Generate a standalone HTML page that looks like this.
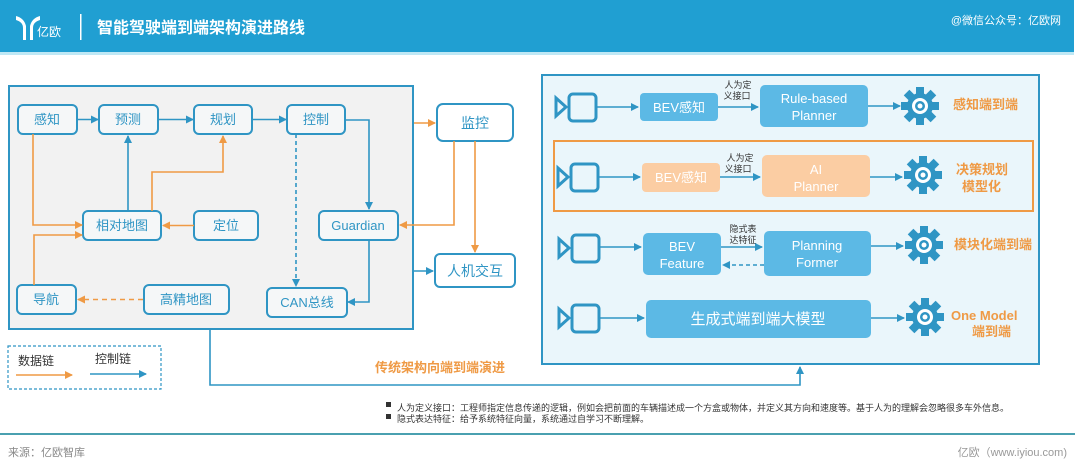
<!DOCTYPE html>
<html><head><meta charset="utf-8"><style>
body{margin:0;background:#fff;width:1080px;height:471px;overflow:hidden}
svg text{font-family:"Liberation Sans","Noto Sans CJK SC",sans-serif}
</style></head><body>
<svg width="1080" height="471" viewBox="0 0 1080 471" xmlns="http://www.w3.org/2000/svg">
<defs>
<marker id="ab" markerWidth="8" markerHeight="8" refX="7" refY="4" orient="auto" markerUnits="userSpaceOnUse"><path d="M0,0 L8,4 L0,8 Z" fill="#2f95c4"/></marker>
<marker id="ao" markerWidth="8" markerHeight="8" refX="7" refY="4" orient="auto" markerUnits="userSpaceOnUse"><path d="M0,0 L8,4 L0,8 Z" fill="#ef9a45"/></marker>
<g id="cam"><path d="M0,4 L10,13 L0,22 Z" fill="none" stroke="#2f95c4" stroke-width="3"/><rect x="13" y="0" width="27" height="27" rx="4" fill="none" stroke="#2f95c4" stroke-width="3"/></g>
<g id="gear"><circle r="13" fill="#2f95c4"/><g fill="#2f95c4"><rect x="-4" y="-19" width="8" height="38"/><rect x="-4" y="-19" width="8" height="38" transform="rotate(45)"/><rect x="-4" y="-19" width="8" height="38" transform="rotate(90)"/><rect x="-4" y="-19" width="8" height="38" transform="rotate(135)"/></g><circle r="8" fill="#fff"/><circle r="5" fill="#2f95c4"/><circle r="2.5" fill="#fff"/></g>
</defs>
<!-- header -->
<rect x="0" y="0" width="1074" height="52" fill="#209fd2"/>
<rect x="0" y="52" width="1074" height="3" fill="#bfe8f5"/>
<path d="M16,16 Q24,18 26,26 L26,40 L30,40 L30,26 Q32,18 40,16 L40,20 Q33,22 33,28 L33,40 L23,40 L23,28 Q23,22 16,20Z" fill="#fff"/>
<text x="37" y="36" font-size="12" fill="#fff">亿欧</text>
<rect x="80" y="14" width="1.5" height="26" fill="#fff"/>
<text x="97" y="33" font-size="16" font-weight="bold" fill="#fff">智能驾驶端到端架构演进路线</text>
<text x="1061" y="24" font-size="11" fill="#fff" text-anchor="end">@微信公众号：亿欧网</text>

<!-- left box -->
<rect x="9" y="86" width="404" height="243" fill="#f2f2f2" stroke="#2f95c4" stroke-width="2"/>
<g fill="#f5f7f8" stroke="#2f95c4" stroke-width="2">
<rect x="18" y="105" width="59" height="29" rx="5"/>
<rect x="99" y="105" width="59" height="29" rx="5"/>
<rect x="194" y="105" width="58" height="29" rx="5"/>
<rect x="287" y="105" width="58" height="29" rx="5"/>
<rect x="83" y="211" width="78" height="29" rx="5"/>
<rect x="194" y="211" width="64" height="29" rx="5"/>
<rect x="319" y="211" width="79" height="29" rx="5"/>
<rect x="17" y="285" width="59" height="29" rx="5"/>
<rect x="144" y="285" width="85" height="29" rx="5"/>
<rect x="267" y="288" width="80" height="29" rx="5"/>
<rect x="437" y="104" width="76" height="37" rx="6" fill="#fff"/>
<rect x="435" y="254" width="80" height="33" rx="5" fill="#fff"/>
</g>
<g font-size="13" fill="#2f95c4" text-anchor="middle">
<text x="47" y="124">感知</text><text x="128" y="124">预测</text><text x="223" y="124">规划</text><text x="316" y="124">控制</text>
<text x="122" y="230">相对地图</text><text x="226" y="230">定位</text><text x="358" y="230">Guardian</text>
<text x="46" y="304">导航</text><text x="186" y="304">高精地图</text><text x="307" y="307">CAN总线</text>
<text x="475" y="128" font-size="14">监控</text><text x="475" y="276" font-size="14">人机交互</text>
</g>
<g fill="none" stroke-width="1.6">
<g stroke="#2f95c4">
<path d="M77,119.5 H98" marker-end="url(#ab)"/>
<path d="M158,119.5 H193" marker-end="url(#ab)"/>
<path d="M252,119.5 H286" marker-end="url(#ab)"/>
<path d="M345,120 H369 V209" marker-end="url(#ab)"/>
<path d="M128,211 V136" marker-end="url(#ab)"/>
<path d="M369,240 V302 H348" marker-end="url(#ab)"/>
<path d="M296,134 V286" stroke-dasharray="4,3" marker-end="url(#ab)"/>
<path d="M413,271 H433" marker-end="url(#ab)"/>
</g>
<g stroke="#ef9a45">
<path d="M33,134 V225 H82" marker-end="url(#ao)"/>
<path d="M34,285 V235 H82" marker-end="url(#ao)"/>
<path d="M152,211 V172 H223 V136" marker-end="url(#ao)"/>
<path d="M194,225.5 H163" marker-end="url(#ao)"/>
<path d="M143,299.5 H78" stroke-dasharray="5,4" marker-end="url(#ao)"/>
<path d="M454,141 V225 H400" marker-end="url(#ao)"/>
<path d="M475,141 V252" marker-end="url(#ao)"/>
<path d="M414,123 H435" marker-end="url(#ao)"/>
</g>
<path d="M210,329 V385 H800 V367" stroke="#2f95c4" marker-end="url(#ab)"/>
</g>
<!-- legend -->
<rect x="8" y="346" width="153" height="43" fill="none" stroke="#2f95c4" stroke-width="1.2" stroke-dasharray="3,2"/>
<text x="18" y="365" font-size="12" fill="#333">数据链</text>
<text x="95" y="363" font-size="12" fill="#333">控制链</text>
<path d="M16,375 H72" stroke="#ef9a45" stroke-width="1.6" marker-end="url(#ao)"/>
<path d="M90,374 H146" stroke="#2f95c4" stroke-width="1.6" marker-end="url(#ab)"/>
<text x="375" y="372" font-size="13" font-weight="bold" fill="#ef9a45">传统架构向端到端演进</text>

<!-- right box -->
<rect x="542" y="75" width="497" height="289" fill="#eaf6fb" stroke="#2f95c4" stroke-width="2"/>
<rect x="554" y="141" width="479" height="70" fill="none" stroke="#ef9a45" stroke-width="2"/>
<use href="#cam" x="556" y="94"/><use href="#cam" x="558" y="164"/><use href="#cam" x="559" y="235"/><use href="#cam" x="559" y="305"/>
<g fill="#5cb9e5">
<rect x="640" y="93" width="78" height="28" rx="4"/>
<rect x="760" y="85" width="108" height="42" rx="5"/>
<rect x="642" y="163" width="78" height="29" rx="4" fill="#fbcda3"/>
<rect x="762" y="155" width="108" height="42" rx="5" fill="#fbcda3"/>
<rect x="643" y="233" width="78" height="42" rx="5"/>
<rect x="764" y="231" width="107" height="45" rx="5"/>
<rect x="646" y="300" width="225" height="38" rx="5"/>
</g>
<g fill="#fff" text-anchor="middle" font-size="13">
<text x="679" y="112">BEV感知</text>
<text x="814" y="103">Rule-based</text><text x="814" y="120">Planner</text>
<text x="681" y="182">BEV感知</text>
<text x="816" y="174">AI</text><text x="816" y="191">Planner</text>
<text x="682" y="251">BEV</text><text x="682" y="268">Feature</text>
<text x="817" y="250">Planning</text><text x="817" y="267">Former</text>
<text x="758" y="324" font-size="15">生成式端到端大模型</text>
</g>
<g font-size="9" fill="#333" text-anchor="middle">
<text x="738" y="88">人为定</text><text x="737" y="99">义接口</text>
<text x="740" y="161">人为定</text><text x="738" y="172">义接口</text>
<text x="743" y="232">隐式表</text><text x="743" y="243">达特征</text>
</g>
<g fill="none" stroke="#2f95c4" stroke-width="1.6">
<path d="M596,107 H638" marker-end="url(#ab)"/>
<path d="M718,107 H758" marker-end="url(#ab)"/>
<path d="M868,106 H900" marker-end="url(#ab)"/>
<path d="M598,177 H640" marker-end="url(#ab)"/>
<path d="M720,177 H760" marker-end="url(#ab)"/>
<path d="M870,177 H902" marker-end="url(#ab)"/>
<path d="M599,247 H641" marker-end="url(#ab)"/>
<path d="M721,247 H762" marker-end="url(#ab)"/>
<path d="M764,265 H723" stroke-dasharray="4,3" marker-end="url(#ab)"/>
<path d="M871,246 H903" marker-end="url(#ab)"/>
<path d="M599,318 H644" marker-end="url(#ab)"/>
<path d="M871,318 H904" marker-end="url(#ab)"/>
</g>
<use href="#gear" x="920" y="106"/><use href="#gear" x="923" y="175"/><use href="#gear" x="924" y="245"/><use href="#gear" x="925" y="317"/>
<g font-size="13" font-weight="bold" fill="#ef9a45">
<text x="953" y="109">感知端到端</text>
<text x="956" y="174">决策规划</text><text x="962" y="191">模型化</text>
<text x="954" y="249">模块化端到端</text>
<text x="951" y="320">One Model</text><text x="972" y="336">端到端</text>
</g>
<!-- footnotes -->
<g font-size="9" fill="#333">
<rect x="386" y="402" width="5" height="5" fill="#333"/><text x="397" y="411">人为定义接口：工程师指定信息传递的逻辑，例如会把前面的车辆描述成一个方盒或物体，并定义其方向和速度等。基于人为的理解会忽略很多车外信息。</text>
<rect x="386" y="414" width="5" height="5" fill="#333"/><text x="397" y="422">隐式表达特征：给予系统特征向量，系统通过自学习不断理解。</text>
</g>
<rect x="0" y="433" width="1075" height="2" fill="#4aa0b0"/>
<text x="8" y="456" font-size="11" fill="#888">来源：亿欧智库</text>
<text x="1067" y="456" font-size="11" fill="#999" text-anchor="end">亿欧（www.iyiou.com)</text>
</svg>
</body></html>
